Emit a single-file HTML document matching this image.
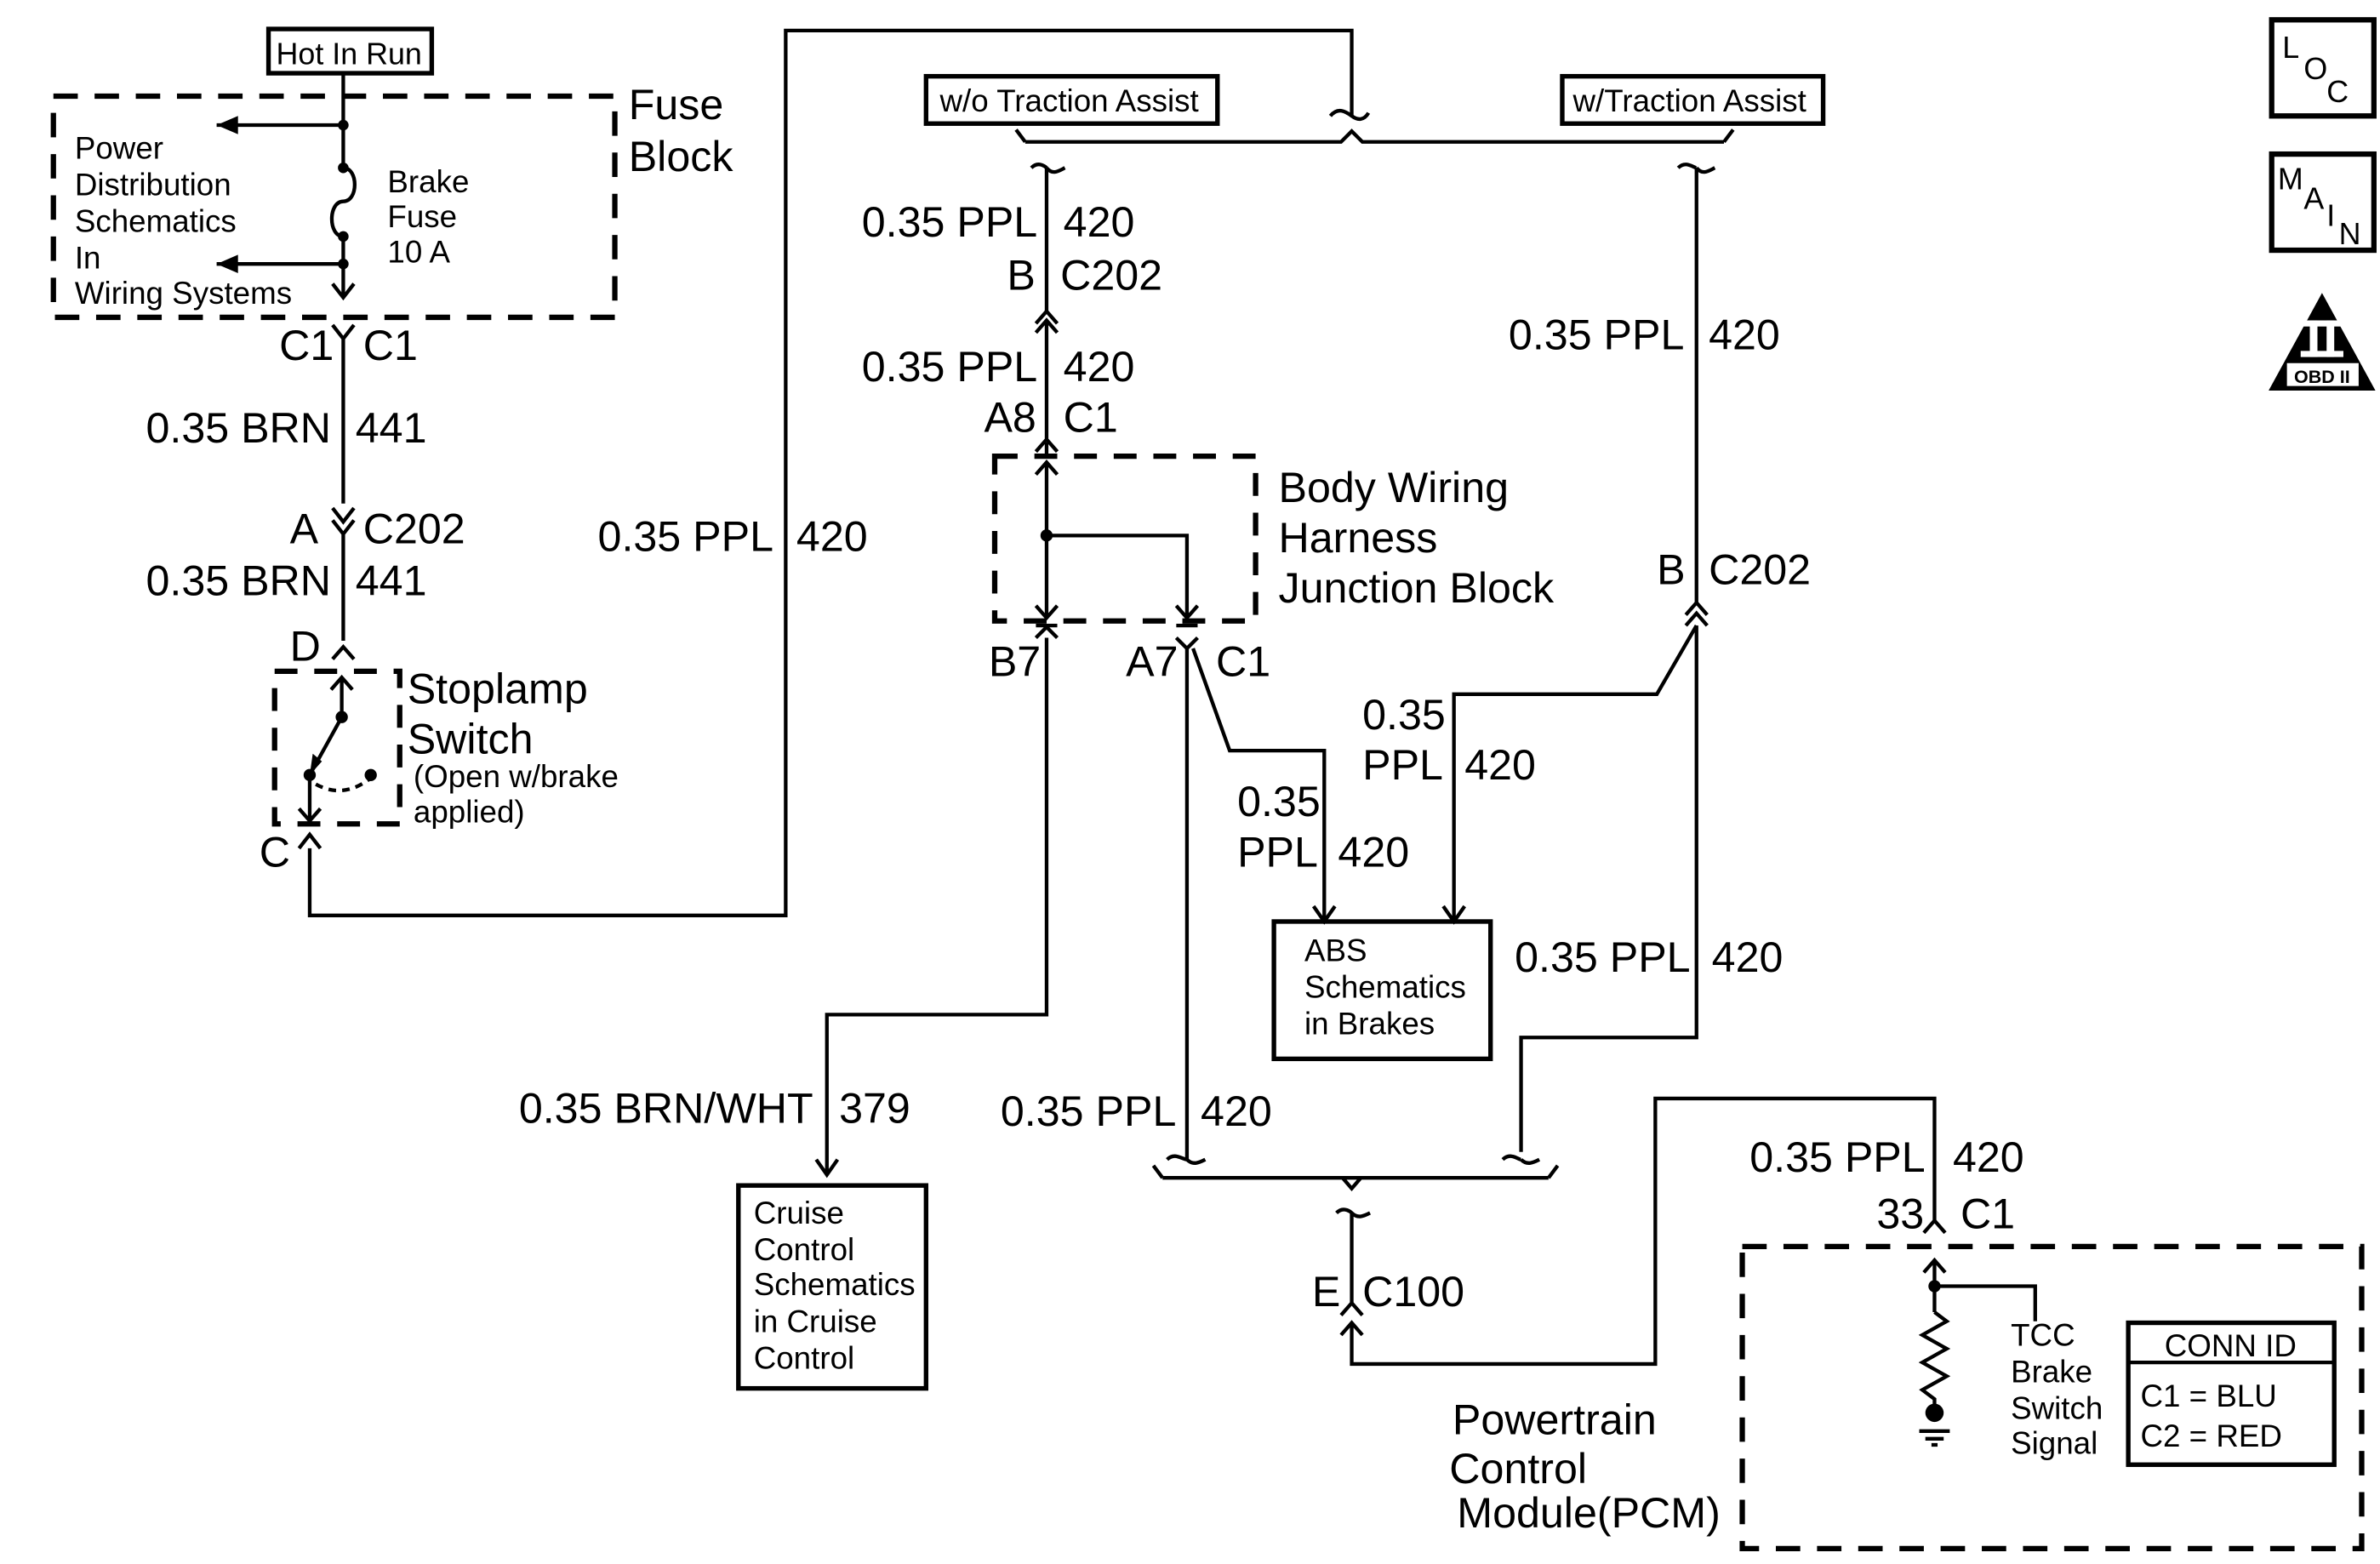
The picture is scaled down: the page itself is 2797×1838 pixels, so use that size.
<!DOCTYPE html>
<html><head><meta charset="utf-8"><style>
html,body{margin:0;padding:0;background:#fff;width:2797px;height:1838px;overflow:hidden}
svg{display:block}
text{font-family:"Liberation Sans",sans-serif;fill:#000}
.L{font-size:28px}
.M{font-size:20.5px}
.S{font-size:20px}
</style></head><body>
<svg width="2797" height="1838" viewBox="0 0 1560 1025.1" preserveAspectRatio="none" xmlns="http://www.w3.org/2000/svg">
<g fill="none" stroke="#000" stroke-width="2.4">
<rect x="176" y="19" width="107" height="29" stroke-width="3"/>
<rect x="35" y="63" width="368" height="145" stroke-width="3.5" stroke-dasharray="16,11"/>
<path d="M225 48V110 M225 155V195"/>
<path d="M225 110 c10 0 10 22 0 22 c-10 0 -10 23 0 23"/>
<path d="M225 82H142 M225 173H142"/>
<path d="M218 186l7 9 7-9"/>
<path d="M218 213l7 9 7-9 M225 222V330"/>
<path d="M218 333l7 9 7-9 M218 341l7 9 7-9 M225 350V420"/>
<path d="M218 432l7-8 7 8"/>
<rect x="180" y="440" width="82" height="100" stroke-width="3.5" stroke-dasharray="15,11"/>
<path d="M224 444V470 M217 452l7-8 7 8 M224 470L203 508 M203 508V538 M196 530l7 8 7-8"/>
<path d="M207 514 q18 10 36 -4" stroke-dasharray="5,4"/>
<path d="M196 556l7-9 7 9 M203 556V600H515V20H886V76"/>
<path d="M872 76c5-6 10-3 14 0c4 3 8 3 11-2"/>
<path d="M672 93H879L886 86L893 93H1130"/>
<path d="M672 93l-6-8 M1130 93l6-8"/>
<path d="M676 110c5-5 10 0 10 0 M686 110c4 5 8 2 12 0 M686 110V205"/>
<path d="M1100 110c5-5 10 0 12 0 M1112 110c4 5 8 2 12 0 M1112 110V395"/>
<rect x="607" y="50" width="191" height="31" stroke-width="3"/>
<rect x="1024" y="50" width="171" height="31" stroke-width="3"/>
<path d="M679 212l7-8 7 8 M679 218l7-8 7 8 M686 210V288 M679 296l7-8 7 8 M686 290V300"/>
<rect x="652" y="299" width="171" height="108" stroke-width="3.5" stroke-dasharray="15,11"/>
<path d="M686 303V405 M679 311l7-8 7 8 M679 397l7 8 7-8 M686 351H778V405 M771 397l7 8 7-8"/>
<path d="M679 410h14 M771 410h14 M679 418l7-7 7 7 M771 418l7 7 7-7"/>
<path d="M686 418V665H542V770 M535 760l7 10 7-10"/>
<path d="M778 425V760 M782 425L806 492H868V604 M861 594l7 10 7-10"/>
<path d="M1105 403l7-8 7 8 M1105 410l7-8 7 8 M1112 410L1086 455H953V604 M946 594l7 10 7-10"/>
<path d="M1112 410V680H997V755"/>
<path d="M765 760c5 -5 10 0 13 0 M778 760 c4 4 8 2 12 0 M985 760c5-5 10 0 12 0 M997 760c4 4 8 2 12 0"/>
<path d="M762 772H1015 M762 772l-6-8 M1015 772l6-8 M880 772l6 7 6-7"/>
<path d="M876 795c5-5 10 0 10 0 M886 795c4 4 8 2 12 0 M886 795V855 M879 862l7-8 7 8 M879 875l7-8 7 8 M886 868V894H1085V720H1268V800 M1261 808l7 -8 7 8"/>
<rect x="835" y="604" width="142" height="90" stroke-width="3"/>
<rect x="484" y="777" width="123" height="133" stroke-width="3"/>
<rect x="1142" y="817" width="406" height="198" stroke-width="3.5" stroke-dasharray="16,11"/>
<path d="M1268 826V860 M1261 834l7-8 7 8 M1268 843H1334V866"/>
<path d="M1268 860l8 6-16 9 16 9-16 9 16 9-16 9 8 6V926"/>
<path d="M1258 938h20 M1262 943h12 M1266 947h4"/>
<rect x="1395" y="867" width="135" height="93" stroke-width="3"/>
<path d="M1395 893H1530"/>
<rect x="1489" y="13" width="67" height="63" stroke-width="3.5"/>
<rect x="1489" y="101" width="67" height="63" stroke-width="3.5"/>
</g>
<g fill="#000">
<path d="M142 82l14-6v12z M142 173l14-6v12z"/>
<circle cx="225" cy="82" r="3.5"/><circle cx="225" cy="110" r="3.5"/><circle cx="225" cy="155" r="3.5"/><circle cx="225" cy="173" r="3.5"/>
<circle cx="224" cy="470" r="4"/><circle cx="203" cy="508" r="4"/><circle cx="243" cy="508" r="4"/>
<path d="M203 508l2-14 6 5z"/>
<circle cx="686" cy="351" r="4"/><circle cx="1268" cy="843" r="4"/><circle cx="1268" cy="926" r="6"/>
<path d="M1522 192L1557 256H1487z"/>
<rect x="1508" y="210" width="28" height="4" fill="#fff"/><rect x="1508" y="230" width="28" height="4" fill="#fff"/>
<rect x="1514" y="210" width="5" height="24" fill="#fff"/><rect x="1525" y="210" width="5" height="24" fill="#fff"/>
<rect x="1499" y="238" width="47" height="15" fill="#fff"/>
</g>
<text class="S" x="181" y="42">Hot In Run</text>
<text class="L" x="412" y="78">Fuse</text><text class="L" x="412" y="112">Block</text>
<text class="M" x="49" y="104">Power</text><text class="M" x="49" y="128">Distribution</text><text class="M" x="49" y="152">Schematics</text><text class="M" x="49" y="176">In</text><text class="M" x="49" y="199">Wiring Systems</text>
<text class="M" x="254" y="126">Brake</text><text class="M" x="254" y="149">Fuse</text><text class="M" x="254" y="172">10 A</text>
<text class="L" x="183" y="236">C1</text><text class="L" x="238" y="236">C1</text>
<text class="L" x="217" y="290" text-anchor="end">0.35 BRN</text><text class="L" x="233" y="290">441</text>
<text class="L" x="190" y="356">A</text><text class="L" x="238" y="356">C202</text>
<text class="L" x="217" y="390" text-anchor="end">0.35 BRN</text><text class="L" x="233" y="390">441</text>
<text class="L" x="190" y="433">D</text>
<text class="L" x="267" y="461">Stoplamp</text><text class="L" x="267" y="494">Switch</text>
<text class="M" x="271" y="516">(Open w/brake</text><text class="M" x="271" y="539">applied)</text>
<text class="L" x="170" y="568">C</text>
<text class="L" x="507" y="361" text-anchor="end">0.35 PPL</text><text class="L" x="522" y="361">420</text>
<text class="M" x="616" y="73">w/o Traction Assist</text><text class="M" x="1031" y="73">w/Traction Assist</text>
<text class="L" x="680" y="155" text-anchor="end">0.35 PPL</text><text class="L" x="697" y="155">420</text>
<text class="L" x="660" y="190">B</text><text class="L" x="695" y="190">C202</text>
<text class="L" x="680" y="250" text-anchor="end">0.35 PPL</text><text class="L" x="697" y="250">420</text>
<text class="L" x="645" y="283">A8</text><text class="L" x="697" y="283">C1</text>
<text class="L" x="838" y="329">Body Wiring</text><text class="L" x="838" y="362">Harness</text><text class="L" x="838" y="395">Junction Block</text>
<text class="L" x="648" y="443">B7</text><text class="L" x="738" y="443">A7</text><text class="L" x="797" y="443">C1</text>
<text class="L" x="1104" y="229" text-anchor="end">0.35 PPL</text><text class="L" x="1120" y="229">420</text>
<text class="L" x="1086" y="383">B</text><text class="L" x="1120" y="383">C202</text>
<text class="L" x="893" y="478">0.35</text><text class="L" x="893" y="511">PPL</text><text class="L" x="960" y="511">420</text>
<text class="L" x="811" y="535">0.35</text><text class="L" x="811" y="568">PPL</text><text class="L" x="877" y="568">420</text>
<text class="M" x="855" y="630">ABS</text><text class="M" x="855" y="654">Schematics</text><text class="M" x="855" y="678">in Brakes</text>
<text class="L" x="1108" y="637" text-anchor="end">0.35 PPL</text><text class="L" x="1122" y="637">420</text>
<text class="L" x="533" y="736" text-anchor="end">0.35 BRN/WHT</text><text class="L" x="550" y="736">379</text>
<text class="L" x="771" y="738" text-anchor="end">0.35 PPL</text><text class="L" x="787" y="738">420</text>
<text class="M" x="494" y="802">Cruise</text><text class="M" x="494" y="826">Control</text><text class="M" x="494" y="849">Schematics</text><text class="M" x="494" y="873">in Cruise</text><text class="M" x="494" y="897">Control</text>
<text class="L" x="860" y="856">E</text><text class="L" x="893" y="856">C100</text>
<text class="L" x="1262" y="768" text-anchor="end">0.35 PPL</text><text class="L" x="1280" y="768">420</text>
<text class="L" x="1230" y="805">33</text><text class="L" x="1285" y="805">C1</text>
<text class="L" x="952" y="940">Powertrain</text><text class="L" x="950" y="972">Control</text><text class="L" x="955" y="1001">Module(PCM)</text>
<text class="M" x="1318" y="882">TCC</text><text class="M" x="1318" y="906">Brake</text><text class="M" x="1318" y="930">Switch</text><text class="M" x="1318" y="953">Signal</text>
<text class="M" x="1462" y="889" text-anchor="middle">CONN ID</text>
<text class="M" x="1403" y="922">C1 = BLU</text><text class="M" x="1403" y="948">C2 = RED</text>
<text class="S" x="1496" y="38">L</text><text class="S" x="1510" y="52">O</text><text class="S" x="1525" y="67">C</text>
<text class="S" x="1493" y="124">M</text><text class="S" x="1510" y="137">A</text><text class="S" x="1525" y="148">I</text><text class="S" x="1533" y="160">N</text>
<text x="1522" y="251" text-anchor="middle" style="font-size:12px;font-weight:bold">OBD II</text>
</svg>
</body></html>
